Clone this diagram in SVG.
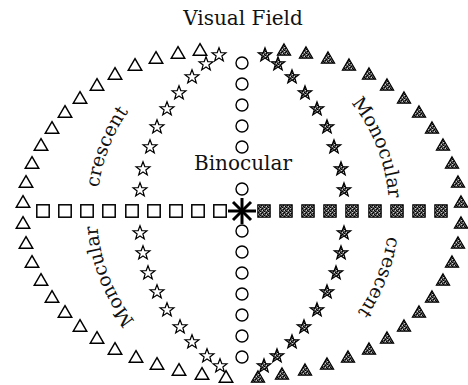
<svg xmlns="http://www.w3.org/2000/svg" xmlns:xlink="http://www.w3.org/1999/xlink" width="468" height="385" viewBox="0 0 468 385">
<style>
.t{font-family:"DejaVu Serif","Liberation Serif",serif;fill:#111}
.ho{fill:#fff;stroke:#000;stroke-width:1.5}
.fi{fill:url(#dith);stroke:#000;stroke-width:1.1}
.ci{fill:#fff;stroke:#000;stroke-width:1.4}
</style>
<defs>
<pattern id="dith" width="4" height="4" patternUnits="userSpaceOnUse">
<rect width="4" height="4" fill="#555"/>
<rect x="0" y="0" width="1" height="1" fill="#000"/>
<rect x="2" y="1" width="1" height="1" fill="#000"/>
<rect x="1" y="2" width="1" height="1" fill="#000"/>
<rect x="3" y="3" width="1" height="1" fill="#000"/>
<rect x="2" y="3" width="1" height="1" fill="#ccc"/>
<rect x="0" y="1" width="1" height="1" fill="#ccc"/>
</pattern>
<path id="tri" d="M0,-6.3 L6.7,5.2 L-6.7,5.2 Z"/>
<path id="star" d="M0,-7.3 L1.8,-2.45 L6.95,-2.25 L2.86,0.94 L4.3,5.9 L0,3 L-4.3,5.9 L-2.86,0.94 L-6.95,-2.25 L-1.8,-2.45 Z"/>
<rect id="sq" x="-6.2" y="-6.2" width="12.4" height="12.4"/>
<path id="arcLC" d="M99.2,240.1 A146,162 0 0 1 165.6,74.6"/>
<path id="arcLM" d="M165.6,349.4 A146,162 0 0 1 99.2,183.9"/>
<path id="arcRM" d="M320.4,74.6 A146,162 0 0 1 386.8,240.1"/>
<path id="arcRC" d="M386.8,183.9 A146,162 0 0 1 320.4,349.4"/>
</defs>
<rect width="468" height="385" fill="#fff"/>
<text class="t" x="243" y="25" font-size="20" text-anchor="middle">Visual Field</text>

<g id="left-triangles" class="ho">
<use href="#tri" x="200" y="50"/><use href="#tri" x="178" y="53"/><use href="#tri" x="156" y="58"/><use href="#tri" x="135" y="65"/>
<use href="#tri" x="115" y="74"/><use href="#tri" x="97" y="85"/><use href="#tri" x="80" y="98"/><use href="#tri" x="65" y="112"/>
<use href="#tri" x="52" y="128"/><use href="#tri" x="41" y="145"/><use href="#tri" x="32" y="163"/><use href="#tri" x="26" y="182"/>
<use href="#tri" x="23" y="202"/><use href="#tri" x="23" y="223"/><use href="#tri" x="26" y="243"/><use href="#tri" x="32" y="262"/>
<use href="#tri" x="41" y="280"/><use href="#tri" x="52" y="297"/><use href="#tri" x="65" y="312"/><use href="#tri" x="80" y="326"/>
<use href="#tri" x="97" y="338"/><use href="#tri" x="115" y="349"/><use href="#tri" x="136" y="357"/><use href="#tri" x="157" y="364"/>
<use href="#tri" x="179" y="370"/><use href="#tri" x="202" y="374"/><use href="#tri" x="226" y="377"/>
</g>
<g id="right-triangles" class="fi">
<use href="#tri" x="284" y="50"/><use href="#tri" x="306" y="53"/><use href="#tri" x="328" y="58"/><use href="#tri" x="349" y="65"/>
<use href="#tri" x="369" y="74"/><use href="#tri" x="387" y="85"/><use href="#tri" x="404" y="98"/><use href="#tri" x="419" y="112"/>
<use href="#tri" x="432" y="128"/><use href="#tri" x="443" y="145"/><use href="#tri" x="452" y="163"/><use href="#tri" x="458" y="182"/>
<use href="#tri" x="461" y="202"/><use href="#tri" x="461" y="223"/><use href="#tri" x="458" y="243"/><use href="#tri" x="452" y="262"/>
<use href="#tri" x="443" y="280"/><use href="#tri" x="432" y="297"/><use href="#tri" x="419" y="312"/><use href="#tri" x="404" y="326"/>
<use href="#tri" x="387" y="338"/><use href="#tri" x="369" y="349"/><use href="#tri" x="348" y="357"/><use href="#tri" x="327" y="364"/>
<use href="#tri" x="305" y="370"/><use href="#tri" x="282" y="374"/><use href="#tri" x="258" y="377"/>
</g>
<g id="left-stars" class="ho" style="stroke-width:1.2">
<use href="#star" x="219" y="55"/><use href="#star" x="206" y="64"/><use href="#star" x="192" y="77"/><use href="#star" x="179" y="93"/>
<use href="#star" x="167" y="109"/><use href="#star" x="157" y="127"/><use href="#star" x="150" y="147"/><use href="#star" x="143" y="169"/>
<use href="#star" x="140" y="190"/><use href="#star" x="140" y="233"/><use href="#star" x="143" y="253"/><use href="#star" x="148" y="273"/>
<use href="#star" x="157" y="292"/><use href="#star" x="167" y="310"/><use href="#star" x="180" y="327"/><use href="#star" x="192" y="342"/>
<use href="#star" x="207" y="356"/><use href="#star" x="220" y="366"/>
</g>
<g id="right-stars" class="fi">
<use href="#star" x="265" y="55"/><use href="#star" x="278" y="64"/><use href="#star" x="292" y="77"/><use href="#star" x="305" y="93"/>
<use href="#star" x="317" y="109"/><use href="#star" x="327" y="127"/><use href="#star" x="334" y="147"/><use href="#star" x="341" y="169"/>
<use href="#star" x="344" y="190"/><use href="#star" x="344" y="233"/><use href="#star" x="341" y="253"/><use href="#star" x="336" y="273"/>
<use href="#star" x="327" y="292"/><use href="#star" x="317" y="310"/><use href="#star" x="304" y="327"/><use href="#star" x="292" y="342"/>
<use href="#star" x="277" y="356"/><use href="#star" x="264" y="366"/>
</g>
<g id="left-squares" class="ho">
<use href="#sq" x="43" y="211"/><use href="#sq" x="65" y="211"/><use href="#sq" x="87" y="211"/><use href="#sq" x="109" y="211"/>
<use href="#sq" x="132" y="211"/><use href="#sq" x="154" y="211"/><use href="#sq" x="176" y="211"/><use href="#sq" x="198" y="211"/>
<use href="#sq" x="220" y="211"/>
</g>
<g id="right-squares" class="fi">
<use href="#sq" x="264" y="211"/><use href="#sq" x="286" y="211"/><use href="#sq" x="308" y="211"/><use href="#sq" x="330" y="211"/>
<use href="#sq" x="352" y="211"/><use href="#sq" x="375" y="211"/><use href="#sq" x="397" y="211"/><use href="#sq" x="419" y="211"/>
<use href="#sq" x="441" y="211"/>
</g>
<g id="circles" class="ci">
<circle cx="242" cy="63" r="6"/><circle cx="242" cy="84" r="6"/><circle cx="242" cy="105" r="6"/><circle cx="242" cy="126" r="6"/>
<circle cx="242" cy="147" r="6"/><circle cx="242" cy="189" r="6"/><circle cx="242" cy="231" r="6"/><circle cx="242" cy="252" r="6"/>
<circle cx="242" cy="273" r="6"/><circle cx="242" cy="294" r="6"/><circle cx="242" cy="315" r="6"/><circle cx="242" cy="336" r="6"/>
<circle cx="242" cy="357" r="6"/>
</g>
<g id="fixation" stroke="#000" stroke-width="3" stroke-linecap="butt">
<line x1="228" y1="211" x2="256" y2="211"/>
<line x1="242" y1="198" x2="242" y2="224"/>
<line x1="233" y1="202" x2="251" y2="220"/>
<line x1="233" y1="220" x2="251" y2="202"/>
</g>
<g id="labels" class="t" font-size="19">
<text x="243" y="170" font-size="20" text-anchor="middle">Binocular</text>
<text text-anchor="middle"><textPath href="#arcLC" startOffset="50%">crescent</textPath></text>
<text text-anchor="middle"><textPath href="#arcLM" startOffset="50%">Monocular</textPath></text>
<text text-anchor="middle"><textPath href="#arcRM" startOffset="50%">Monocular</textPath></text>
<text text-anchor="middle"><textPath href="#arcRC" startOffset="50%">crescent</textPath></text>
</g>
</svg>
